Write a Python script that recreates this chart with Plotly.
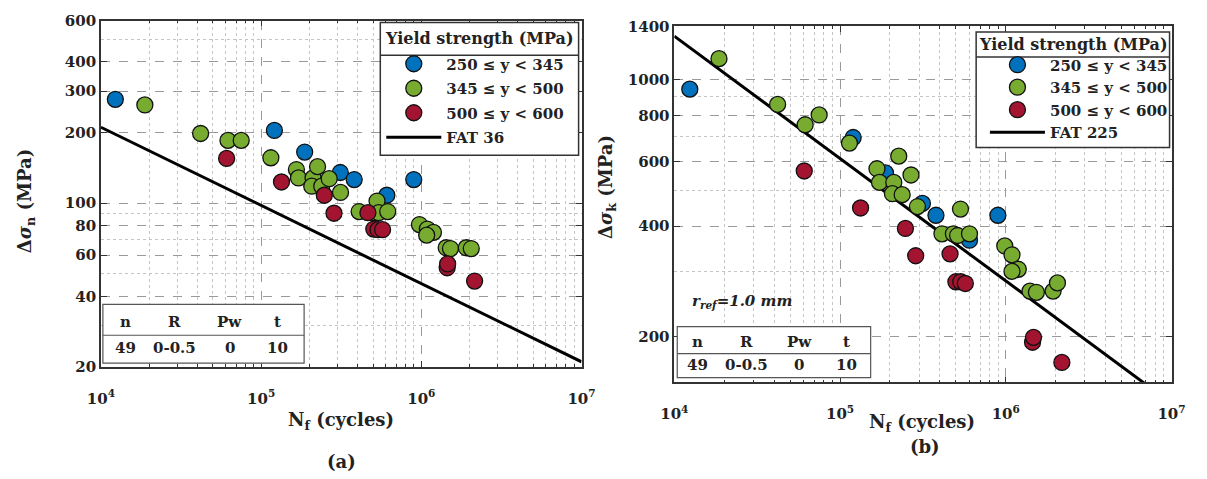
import math
import plotly.graph_objects as go

# ---------------- panel (a): nominal stress range vs. cycles ----------------
a_blue_n = [12300, 121000, 187000, 312000, 381000, 609000, 897000]
a_blue_s = [277, 204, 165, 135, 126, 108, 126]

a_green_n = [18800, 41900, 62100, 75100, 115000, 166000, 171000, 211000, 207000,
             225000, 239000, 266000, 313000, 409000, 505000, 529000, 542000, 617000,
             973000, 1090000, 1190000, 1080000, 1430000, 1520000, 1910000, 2050000]
a_green_s = [262, 198, 185, 185, 156, 139, 128, 128, 118,
             143, 118, 127, 111, 92, 91, 102, 91, 92,
             81, 77.5, 75, 73, 64.5, 64, 64.5, 64]

a_red_n = [60900, 134000, 248000, 285000, 464000, 505000, 537000, 573000,
           1450000, 1460000, 2150000]
a_red_s = [155, 123, 108, 90.5, 91, 77.5, 77, 77, 53, 55, 46.5]

a_fat_n = [1e4, 1e7]
a_fat_s = [210.5, 21.05]

# ---------------- panel (b): notch stress range vs. cycles ----------------
b_blue_n = [12400, 120000, 188000, 314000, 379000, 604000, 896000]
b_blue_s = [944, 697, 558, 461, 428, 366, 428]

b_green_n = [18600, 42000, 61600, 74800, 114000, 167000, 173000, 211000, 207000,
             226000, 237000, 268000, 293000, 412000, 483000, 512000, 533000, 604000,
             986000, 1090000, 1190000, 1090000, 1400000, 1530000, 1930000, 2050000]
b_green_s = [1143, 858, 755, 803, 673, 573, 526, 526, 490,
             620, 487, 551, 452, 381, 381, 377, 445, 381,
             353, 334, 305, 301, 266, 264, 266, 280]

b_red_n = [60800, 133000, 248000, 286000, 461000, 500000, 535000, 570000,
           1450000, 1470000, 2180000]
b_red_s = [565, 448, 394, 332, 336, 282, 282, 279, 193, 199, 170]

b_fat_n = [1e4, 1e7]
b_fat_s = [1316, 131.6]

# ---------------- labels ----------------
group_names = ["250 \u2264 y < 345", "345 \u2264 y < 500", "500 \u2264 y < 600"]
a_fat_name = "FAT 36"
b_fat_name = "FAT 225"
legend_title = "Yield strength (MPa)"
table_head = ["n", "R", "Pw", "t"]
table_row = ["49", "0-0.5", "0", "10"]

x_tickvals = [1e4, 1e5, 1e6, 1e7]
x_ticktext = ["10<sup>4</sup>", "10<sup>5</sup>", "10<sup>6</sup>", "10<sup>7</sup>"]
x_minor = [m * 10 ** e for e in (4, 5, 6) for m in range(2, 10)]
a_y_ticks = [20, 40, 60, 80, 100, 200, 300, 400, 600]
a_y_minor = [30, 50, 70, 90, 500]
b_y_ticks = [200, 400, 600, 800, 1000, 1400]
b_y_minor = [300, 500, 700, 900]

# ---------------- styling ----------------
W, H = 1207, 479
FONT = "DejaVu Serif"
INK = "#222222"
COLORS = ["#0072BD", "#77AC30", "#A2142F"]


def px(x):
    return x / W


def py(y):
    return 1 - y / H


fig = go.Figure()

panels = [
    ("x", "y", "legend", [(a_blue_n, a_blue_s), (a_green_n, a_green_s), (a_red_n, a_red_s)],
     a_fat_n, a_fat_s, a_fat_name),
    ("x2", "y2", "legend2", [(b_blue_n, b_blue_s), (b_green_n, b_green_s), (b_red_n, b_red_s)],
     b_fat_n, b_fat_s, b_fat_name),
]

for k, (xa, ya, lg, groups, fat_n, fat_s, fat_name) in enumerate(panels):
    fig.add_trace(go.Scatter(
        x=fat_n, y=fat_s, mode="lines", name=fat_name,
        line=dict(color="black", width=3), xaxis=xa, yaxis=ya, legend=lg,
        legendgroup=f"{lg}-fat", legendrank=4))
    for i, ((n, s), color, name) in enumerate(zip(groups, COLORS, group_names)):
        fig.add_trace(go.Scatter(
            x=n, y=s, mode="markers", name=name,
            marker=dict(size=16, color=color, line=dict(color="#111111", width=1.3)),
            xaxis=xa, yaxis=ya, legend=lg, legendgroup=f"{lg}-{i}", legendrank=i + 1))

tick_font = dict(family=FONT, size=15, color=INK, weight="bold")


def x_axis(domain, anchor):
    return dict(
        type="log", domain=domain, anchor=anchor, range=[4, 7],
        tickmode="array", tickvals=x_tickvals, ticktext=x_ticktext,
        ticks="inside", ticklen=6, tickwidth=1, tickcolor="#333",
        showline=True, linecolor="#333", linewidth=1.5, mirror="ticks",
        showgrid=True, gridcolor="#9a9a9a", griddash="dash", gridwidth=1,
        minor=dict(tickmode="array", tickvals=x_minor, ticks="inside", ticklen=3,
                   tickcolor="#333", showgrid=True, gridcolor="#c4c4c4",
                   griddash="dot", gridwidth=1),
        tickfont=tick_font, ticklabelstandoff=17, zeroline=False)


def y_axis(domain, anchor, rng, ticks, minor):
    return dict(
        type="log", domain=domain, anchor=anchor, range=rng,
        tickmode="array", tickvals=ticks, ticktext=[str(t) for t in ticks],
        ticks="inside", ticklen=6, tickwidth=1, tickcolor="#333",
        showline=True, linecolor="#333", linewidth=1.5, mirror="ticks",
        showgrid=True, gridcolor="#9a9a9a", griddash="dash", gridwidth=1,
        minor=dict(tickmode="array", tickvals=minor, ticks="", showgrid=True,
                   gridcolor="#c4c4c4", griddash="dot", gridwidth=1),
        tickfont=tick_font, zeroline=False)


legend_font = dict(family=FONT, size=15, color=INK, weight="bold")
header_font = dict(family=FONT, size=16, color=INK, weight="bold")

fig.update_layout(
    width=W, height=H, margin=dict(l=0, r=0, t=0, b=0),
    paper_bgcolor="white", plot_bgcolor="white",
    xaxis=x_axis([px(89), px(581)], "y"),
    yaxis=y_axis([py(372), py(12)], "x", [math.log10(20), math.log10(600)], a_y_ticks, a_y_minor),
    xaxis2=x_axis([px(676), px(1185)], "y2"),
    yaxis2=y_axis([py(388), py(18)], "x2", [math.log10(150), math.log10(1400)], b_y_ticks, b_y_minor),
    legend=dict(x=px(376), y=py(40), xanchor="left", yanchor="top",
                bgcolor="rgba(0,0,0,0)", borderwidth=0, font=legend_font,
                itemwidth=55, traceorder="grouped", tracegroupgap=2),
    legend2=dict(x=px(994), y=py(41), xanchor="left", yanchor="top",
                 bgcolor="rgba(0,0,0,0)", borderwidth=0, font=legend_font,
                 itemwidth=55, traceorder="grouped", tracegroupgap=0),
    showlegend=True,
)

shapes = []
annotations = []

# legend frames with a header row
for (x0, x1, y0, y1, ysep) in [(375, 578, 14, 152, 48), (985, 1183, 24, 144, 50)]:
    shapes.append(dict(type="rect", xref="paper", yref="paper",
                       x0=px(x0), x1=px(x1), y0=py(y1), y1=py(y0),
                       line=dict(color="#333", width=1.5), fillcolor="white", layer="above"))
    shapes.append(dict(type="line", xref="paper", yref="paper",
                       x0=px(x0), x1=px(x1), y0=py(ysep), y1=py(ysep),
                       line=dict(color="#333", width=1.5), layer="above"))
    annotations.append(dict(text=legend_title, xref="paper", yref="paper",
                            x=px((x0 + x1) / 2), y=py((y0 + ysep) / 2),
                            xanchor="center", yanchor="middle", showarrow=False,
                            font=header_font))

# parameter tables
tables = [
    dict(box=(91, 297, 307, 368), sep=339, head_y=325, row_y=352,
         cols=[114, 164, 221, 270]),
    dict(box=(679, 877, 330, 383), sep=358, head_y=346, row_y=370,
         cols=[700, 750, 804, 852]),
]
table_font = dict(family=FONT, size=15, color=INK, weight="bold")
for t in tables:
    x0, x1, y0, y1 = t["box"]
    shapes.append(dict(type="rect", xref="paper", yref="paper",
                       x0=px(x0), x1=px(x1), y0=py(y1), y1=py(y0),
                       line=dict(color="#555", width=1.2), fillcolor="white", layer="above"))
    shapes.append(dict(type="line", xref="paper", yref="paper",
                       x0=px(x0), x1=px(x1), y0=py(t["sep"]), y1=py(t["sep"]),
                       line=dict(color="#555", width=1.2), layer="above"))
    for cx, h, r in zip(t["cols"], table_head, table_row):
        annotations.append(dict(text=h, xref="paper", yref="paper", x=px(cx), y=py(t["head_y"]),
                                xanchor="center", yanchor="middle", showarrow=False, font=table_font))
        annotations.append(dict(text=r, xref="paper", yref="paper", x=px(cx), y=py(t["row_y"]),
                                xanchor="center", yanchor="middle", showarrow=False, font=table_font))

title_font = dict(family=FONT, size=18, color=INK, weight="bold")

annotations += [
    dict(text="N<sub>f</sub> (cycles)", xref="paper", yref="paper", x=px(335), y=py(428),
         xanchor="center", yanchor="middle", showarrow=False, font=title_font),
    dict(text="N<sub>f</sub> (cycles)", xref="paper", yref="paper", x=px(930), y=py(430),
         xanchor="center", yanchor="middle", showarrow=False, font=title_font),
    dict(text="\u0394<i>\u03c3</i><sub>n</sub> (MPa)", xref="paper", yref="paper", x=px(13), y=py(200),
         xanchor="center", yanchor="middle", showarrow=False, textangle=-90, font=title_font),
    dict(text="\u0394<i>\u03c3</i><sub>k</sub> (MPa)", xref="paper", yref="paper", x=px(607), y=py(185),
         xanchor="center", yanchor="middle", showarrow=False, textangle=-90, font=title_font),
    dict(text="(a)", xref="paper", yref="paper", x=px(335), y=py(470),
         xanchor="center", yanchor="middle", showarrow=False, font=title_font),
    dict(text="(b)", xref="paper", yref="paper", x=px(933), y=py(455),
         xanchor="center", yanchor="middle", showarrow=False, font=title_font),
    dict(text="<i>r<sub>ref</sub>=1.0 mm</i>", xref="paper", yref="paper", x=px(692), y=py(304),
         xanchor="left", yanchor="middle", showarrow=False,
         font=dict(family=FONT, size=15, color=INK, weight="bold")),
]

fig.update_layout(shapes=shapes, annotations=annotations)

fig.write_html("out.html")
